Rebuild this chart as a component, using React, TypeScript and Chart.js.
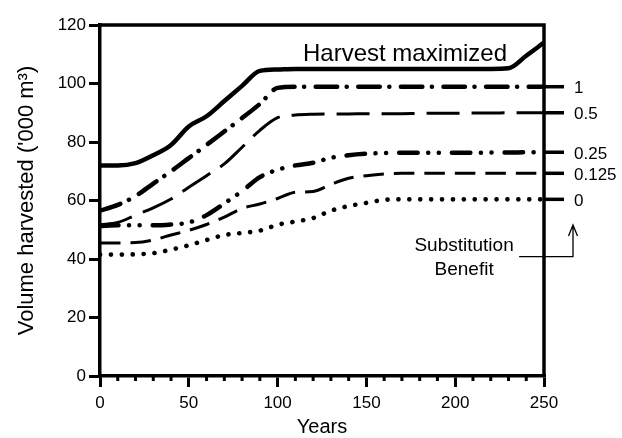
import React, { useEffect, useRef } from "react";
import { Chart, registerables } from "chart.js";

Chart.register(...registerables);

// ---- data ----
const years = [0, 10, 20, 30, 40, 50, 60, 70, 80, 90, 100, 110, 120, 130, 140, 150, 160, 170, 180, 190, 200, 210, 220, 230, 240, 250];
const harvestMax = [72, 72, 72.8, 75.5, 79, 85.3, 88.8, 94, 99.2, 104.3, 104.8, 105, 105, 105, 105, 105, 105, 105, 105, 105, 105, 105, 105, 105.2, 109.5, 114];
const benefit1 = [56.5, 58.5, 61.5, 65.8, 70, 74.5, 79, 83.6, 88.2, 93, 98.5, 98.9, 98.9, 98.9, 98.9, 98.9, 98.9, 98.9, 98.9, 98.9, 98.9, 98.9, 98.9, 98.9, 98.9, 98.9];
const benefit05 = [51.7, 52.5, 55, 57.5, 60.5, 64.5, 68.5, 72.5, 78.2, 84, 88.3, 89.2, 89.5, 89.6, 89.6, 89.7, 89.7, 89.7, 89.8, 89.8, 89.8, 89.9, 89.9, 90, 90, 90];
const benefit025 = [51.3, 51.5, 51.5, 51.5, 51.8, 52.5, 55, 59, 63.2, 68, 70.5, 72, 72.9, 74.6, 75.5, 76, 76.2, 76.3, 76.3, 76.3, 76.3, 76.3, 76.4, 76.4, 76.5, 76.5];
const benefit0125 = [45.5, 45.5, 45.6, 46.5, 48.2, 49.8, 51.8, 54.3, 57.3, 58.8, 60.7, 62.8, 63.1, 65.5, 67.6, 68.5, 69.1, 69.3, 69.3, 69.3, 69.3, 69.3, 69.3, 69.3, 69.3, 69.3];
const benefit0 = [41.5, 41.5, 41.6, 42, 43.2, 44.7, 46.5, 48.2, 48.9, 49.7, 51.7, 52.8, 54, 56.5, 58.1, 59.2, 60.2, 60.4, 60.4, 60.4, 60.4, 60.4, 60.4, 60.4, 60.4, 60.4];
const benefitLabels = ["1", "0.5", "0.25", "0.125", "0"];
const harvestLabel = "Harvest maximized";
const substitutionLabel = ["Substitution", "Benefit"];
const xTitle = "Years";
const yTitle = "Volume harvested ('000 m\u00B3)";

const FONT = "'Liberation Sans', Arial, Helvetica, sans-serif";

const toPts = (vals: number[]) => years.map((x, i) => ({ x, y: vals[i] }));

const decorPlugin = {
  id: "decor",
  afterDraw(chart: any) {
    const { ctx, chartArea, scales } = chart;
    const xs = scales.x;
    const ys = scales.y;
    const { left, right, top, bottom } = chartArea;
    ctx.save();
    ctx.strokeStyle = "#000";
    ctx.fillStyle = "#000";
    ctx.lineCap = "butt";

    // frame: top and right
    ctx.lineWidth = 3.5;
    ctx.beginPath();
    ctx.moveTo(left, top);
    ctx.lineTo(right, top);
    ctx.moveTo(right, top - 1.75);
    ctx.lineTo(right, bottom);
    ctx.stroke();

    // minor x ticks
    ctx.lineWidth = 3;
    for (let v = 10; v < 250; v += 10) {
      if (v % 50 === 0) continue;
      const px = xs.getPixelForValue(v);
      ctx.beginPath();
      ctx.moveTo(px, bottom);
      ctx.lineTo(px, bottom + 5);
      ctx.stroke();
    }

    // right-side ticks + labels for each substitution benefit
    const ends = [benefit1, benefit05, benefit025, benefit0125, benefit0].map((a) => a[a.length - 1]);
    ctx.lineWidth = 3.5;
    ctx.font = `17px ${FONT}`;
    ctx.textAlign = "left";
    ctx.textBaseline = "middle";
    ends.forEach((v, i) => {
      const py = ys.getPixelForValue(v);
      ctx.beginPath();
      ctx.moveTo(right, py);
      ctx.lineTo(right + 20, py);
      ctx.stroke();
      ctx.fillText(benefitLabels[i], right + 30, py + 2);
    });

    // Harvest maximized label
    ctx.font = `24px ${FONT}`;
    ctx.textAlign = "left";
    ctx.textBaseline = "alphabetic";
    ctx.fillText(harvestLabel, xs.getPixelForValue(114.3), ys.getPixelForValue(107.8));

    // Substitution Benefit label
    ctx.font = `19px ${FONT}`;
    ctx.textAlign = "center";
    const cx = xs.getPixelForValue(205);
    ctx.fillText(substitutionLabel[0], cx, ys.getPixelForValue(42.8));
    ctx.fillText(substitutionLabel[1], cx, ys.getPixelForValue(34.5));

    // bracket with arrow
    const yLine = ys.getPixelForValue(40.8);
    const yTip = ys.getPixelForValue(51.6);
    const xArrow = right + 29;
    ctx.lineWidth = 1.3;
    ctx.beginPath();
    ctx.moveTo(xs.getPixelForValue(236), yLine);
    ctx.lineTo(xArrow, yLine);
    ctx.lineTo(xArrow, yTip);
    ctx.moveTo(xArrow - 4.5, yTip + 11);
    ctx.lineTo(xArrow, yTip);
    ctx.lineTo(xArrow + 4.5, yTip + 11);
    ctx.stroke();

    ctx.restore();
  },
};

export default function App() {
  const ref = useRef<HTMLCanvasElement | null>(null);

  useEffect(() => {
    if (!ref.current) return;
    const common = { pointRadius: 0, fill: false, cubicInterpolationMode: "monotone" as const, borderColor: "#000" };
    const chart = new Chart(ref.current, {
      type: "line",
      data: {
        datasets: [
          { ...common, label: harvestLabel, data: toPts(harvestMax), borderWidth: 4.5, borderCapStyle: "butt" },
          { ...common, label: benefitLabels[0], data: toPts(benefit1), borderWidth: 4.5, borderCapStyle: "round", borderDash: [21.5, 9.5, 0.1, 11.5] },
          { ...common, label: benefitLabels[1], data: toPts(benefit05), borderWidth: 3, borderCapStyle: "butt", borderDash: [33, 12] },
          { ...common, label: benefitLabels[2], data: toPts(benefit025), borderWidth: 4.5, borderCapStyle: "round", borderDash: [18.5, 10.5, 0.1, 10.5, 0.1, 13] },
          { ...common, label: benefitLabels[3], data: toPts(benefit0125), borderWidth: 3, borderCapStyle: "butt", borderDash: [20.5, 10] },
          { ...common, label: benefitLabels[4], data: toPts(benefit0), borderWidth: 4.6, borderCapStyle: "round", borderDash: [0.1, 10.8] },
        ],
      },
      options: {
        responsive: false,
        animation: false,
        devicePixelRatio: 1,
        layout: { padding: { top: 25, right: 78, left: 0, bottom: 0 } },
        plugins: { legend: { display: false }, tooltip: { enabled: false } },
        scales: {
          x: {
            type: "linear",
            min: 0,
            max: 250,
            afterFit: (s: any) => { s.height = 62; },
            ticks: { stepSize: 50, color: "#000", font: { family: FONT, size: 17 }, padding: 6, maxRotation: 0 },
            grid: { drawOnChartArea: false, drawTicks: true, tickLength: 11, lineWidth: 3, color: "#000" },
            border: { display: true, width: 3.5, color: "#000" },
            title: { display: true, text: xTitle, color: "#000", font: { family: FONT, size: 20 }, padding: { top: 0, bottom: -1 } },
          },
          y: {
            type: "linear",
            min: 0,
            max: 120,
            afterFit: (s: any) => { s.width = 100; },
            ticks: { stepSize: 20, color: "#000", font: { family: FONT, size: 17 }, padding: 3 },
            grid: { drawOnChartArea: false, drawTicks: true, tickLength: 11, lineWidth: 3, color: "#000" },
            border: { display: true, width: 3.5, color: "#000" },
            title: { display: true, text: yTitle, color: "#000", font: { family: FONT, size: 22 }, padding: { top: 14, bottom: 0 } },
          },
        },
      },
      plugins: [decorPlugin],
    } as any);
    return () => chart.destroy();
  }, []);

  return (
    <div style={{ position: "absolute", left: 0, top: 0, width: 622, height: 438, background: "#fff" }}>
      <canvas ref={ref} width={622} height={438} />
    </div>
  );
}
